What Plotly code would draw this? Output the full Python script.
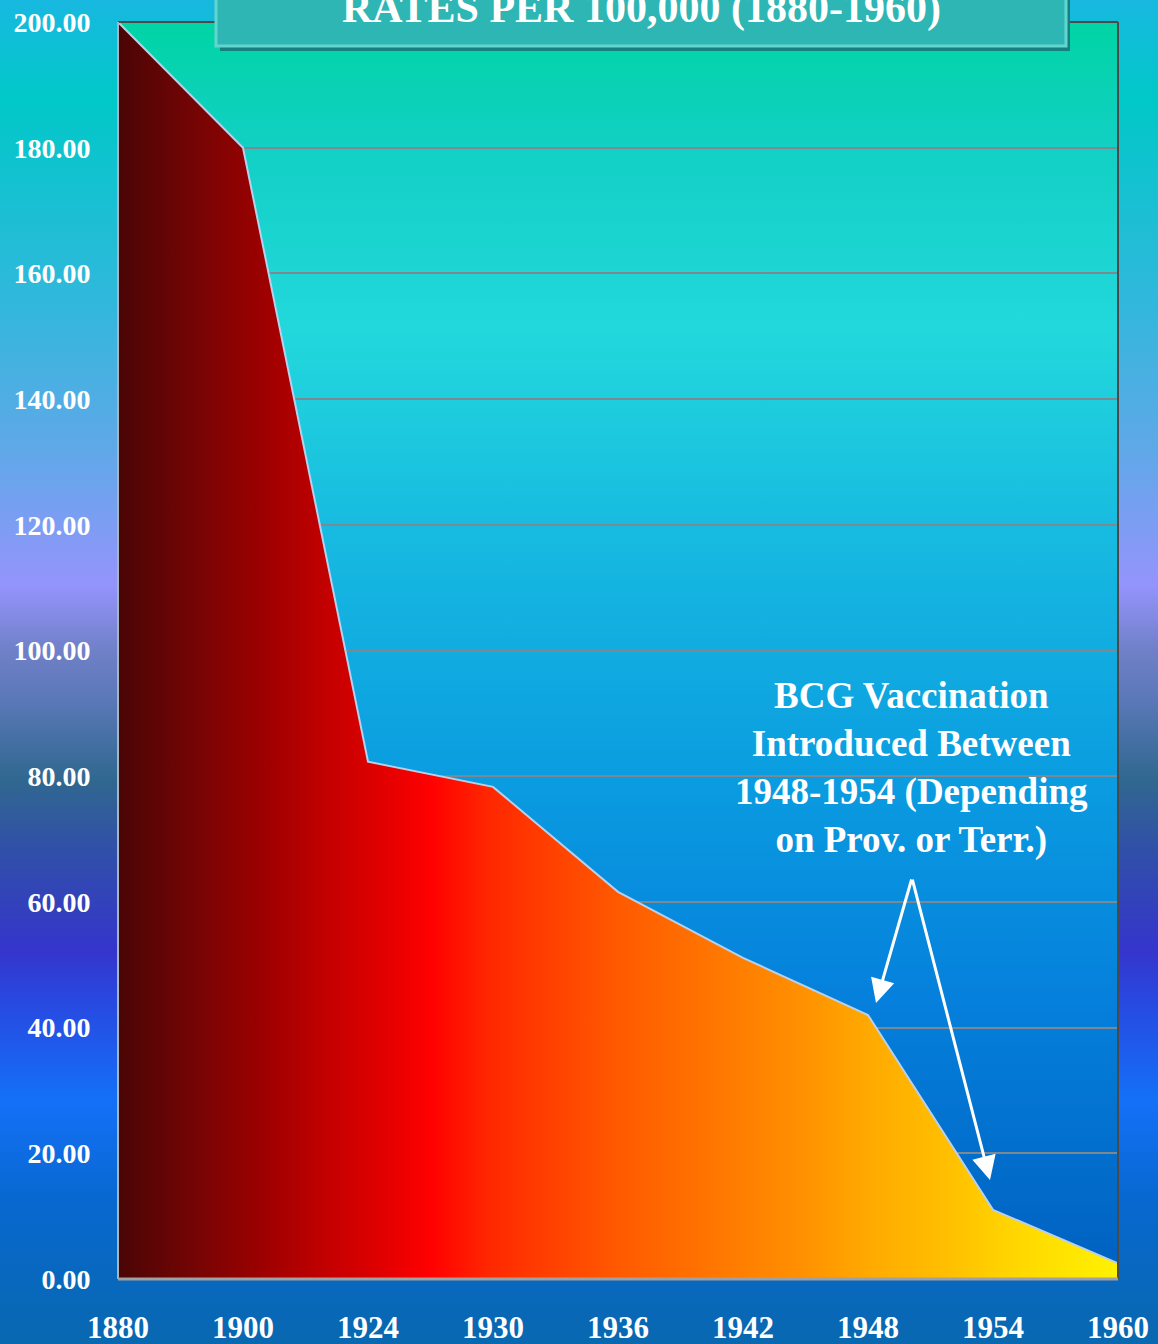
import plotly.graph_objects as go

# ---------------- data ----------------
years = ["1880", "1900", "1924", "1930", "1936", "1942", "1948", "1954", "1960"]
rates = [200.0, 180.0, 82.3, 78.3, 61.6, 51.1, 42.0, 11.0, 2.5]
y_ticks = [0, 20, 40, 60, 80, 100, 120, 140, 160, 180, 200]
title_text = "RATES PER 100,000 (1880-1960)"
note_lines = ["BCG Vaccination", "Introduced Between", "1948-1954 (Depending", "on Prov. or Terr.)"]

# ---------------- layout constants ----------------
W, H = 1158, 1344
PL, PR, PT, PB = 118, 1118, 22, 1279   # plot area in pixels
FONT = "Liberation Serif"

paper_scale = [
    [0.000, "#0868B0"], [0.107, "#0868D0"], [0.182, "#1470F8"], [0.256, "#2848E0"],
    [0.293, "#3535CC"], [0.368, "#3050A8"], [0.420, "#306890"], [0.479, "#5A78B8"],
    [0.516, "#7080C8"], [0.565, "#9494FC"], [0.665, "#60A8E8"], [0.777, "#30B8DC"],
    [0.926, "#00C8C8"], [1.000, "#18B8E0"],
]
plot_scale = [
    [0.000, "#0060C0"], [0.222, "#0580DC"], [0.397, "#0A9CE0"], [0.604, "#18BCE0"],
    [0.755, "#22D8DC"], [0.900, "#12D0C4"], [1.000, "#00D4A4"],
]
area_scale = [
    [0.000, "#4A0505"], [0.082, "#780404"], [0.150, "#A00000"], [0.217, "#C80000"],
    [0.262, "#E00000"], [0.312, "#FF0000"], [0.372, "#FF2800"], [0.432, "#FF4000"],
    [0.502, "#FF5A00"], [0.582, "#FF7200"], [0.682, "#FF9000"], [0.752, "#FFAA00"],
    [0.832, "#FFC000"], [0.902, "#FFD800"], [1.000, "#FFF200"],
]

fig = go.Figure()

# full-page background (on helper axes x/y spanning the whole paper)
fig.add_trace(go.Scatter(
    x=[0, 1, 1, 0, 0], y=[0, 0, 1, 1, 0], mode="none", fill="toself",
    fillgradient=dict(type="vertical", colorscale=paper_scale),
    hoverinfo="skip", showlegend=False, xaxis="x", yaxis="y"))

# plot-area background
px0, px1 = PL / W, PR / W
py0, py1 = 1 - PB / H, 1 - PT / H
fig.add_trace(go.Scatter(
    x=[px0, px1, px1, px0, px0], y=[py0, py0, py1, py1, py0], mode="none", fill="toself",
    fillgradient=dict(type="vertical", colorscale=plot_scale),
    hoverinfo="skip", showlegend=False, xaxis="x", yaxis="y"))

# data area
fig.add_trace(go.Scatter(
    x=years, y=rates, mode="lines", fill="tozeroy",
    line=dict(color="#B8D0EC", width=2),
    fillgradient=dict(type="horizontal", colorscale=area_scale),
    hoverinfo="x+y", showlegend=False, xaxis="x2", yaxis="y2"))

fig.update_layout(
    template="none",
    width=W, height=H, autosize=False,
    margin=dict(l=0, r=0, t=0, b=0, pad=0),
    paper_bgcolor="#1090D0", plot_bgcolor="rgba(0,0,0,0)",
    xaxis=dict(domain=[0, 1], range=[0, 1], visible=False, fixedrange=True, automargin=False),
    yaxis=dict(domain=[0, 1], range=[0, 1], visible=False, fixedrange=True, automargin=False),
    xaxis2=dict(domain=[px0, px1], anchor="y2", type="category", range=[0, len(years) - 1],
                showgrid=False, zeroline=False, showline=False, automargin=False,
                ticks="outside", ticklen=21, tickcolor="rgba(0,0,0,0)",
                tickfont=dict(family=FONT, size=31, color="white", weight="bold")),
    yaxis2=dict(domain=[py0, py1], anchor="x2", range=[0, 200], automargin=False,
                tickvals=y_ticks, tickformat=".2f",
                showgrid=True, gridcolor="#7E8890", gridwidth=1.5, zeroline=False, showline=False,
                ticks="outside", ticklen=21, tickcolor="rgba(0,0,0,0)",
                tickfont=dict(family=FONT, size=28, color="white", weight="bold")),
)

# plot borders
border = [
    dict(x0=0, x1=1, y0=1, y1=1, color="#4A4A4A", width=2),
    dict(x0=1, x1=1, y0=0, y1=1, color="#4A4A4A", width=2),
    dict(x0=0, x1=0, y0=0, y1=1, color="#A8B4C0", width=2),
    dict(x0=0, x1=1, y0=0, y1=0, color="#A0A0A0", width=3),
]
for b in border:
    fig.add_shape(type="line", xref="x2 domain", yref="y2 domain",
                  x0=b["x0"], x1=b["x1"], y0=b["y0"], y1=b["y1"],
                  line=dict(color=b["color"], width=b["width"]), layer="above")

# title box
fig.add_shape(type="rect", xref="paper", yref="paper",
              x0=220 / W, x1=1070 / W, y0=1 - 51 / H, y1=1.05,
              fillcolor="#16807E", line=dict(width=0), layer="above")
fig.add_shape(type="rect", xref="paper", yref="paper",
              x0=216 / W, x1=1066 / W, y0=1 - 46 / H, y1=1.05,
              fillcolor="#2EB6B4", line=dict(color="#62D6CE", width=3), layer="above")
fig.add_annotation(xref="paper", yref="paper", x=641 / W, y=1 - 34 / H,
                   xanchor="center", yanchor="bottom", showarrow=False,
                   text=title_text,
                   font=dict(family=FONT, size=42, color="white", weight="bold"))

# BCG note
fig.add_annotation(xref="paper", yref="paper", x=911 / W, y=1 - 768 / H,
                   xanchor="center", yanchor="middle", showarrow=False,
                   text="<br>".join(note_lines), align="center",
                   font=dict(family=FONT, size=37, color="white", weight="bold"))

# arrows (tail at common apex, heads near the 1948 and 1954 points)
apex = (6.352, 63.8)
for tip in [(6.064, 43.9), (6.976, 15.75)]:
    fig.add_annotation(xref="x2", yref="y2", axref="x2", ayref="y2",
                       x=tip[0], y=tip[1], ax=apex[0], ay=apex[1], text="",
                       showarrow=True, arrowhead=2, arrowsize=1.6, arrowwidth=3,
                       arrowcolor="white", standoff=0, startstandoff=0)

fig.write_html("out.html", config={"displayModeBar": False},
               post_script="document.body.style.margin='0px';")
